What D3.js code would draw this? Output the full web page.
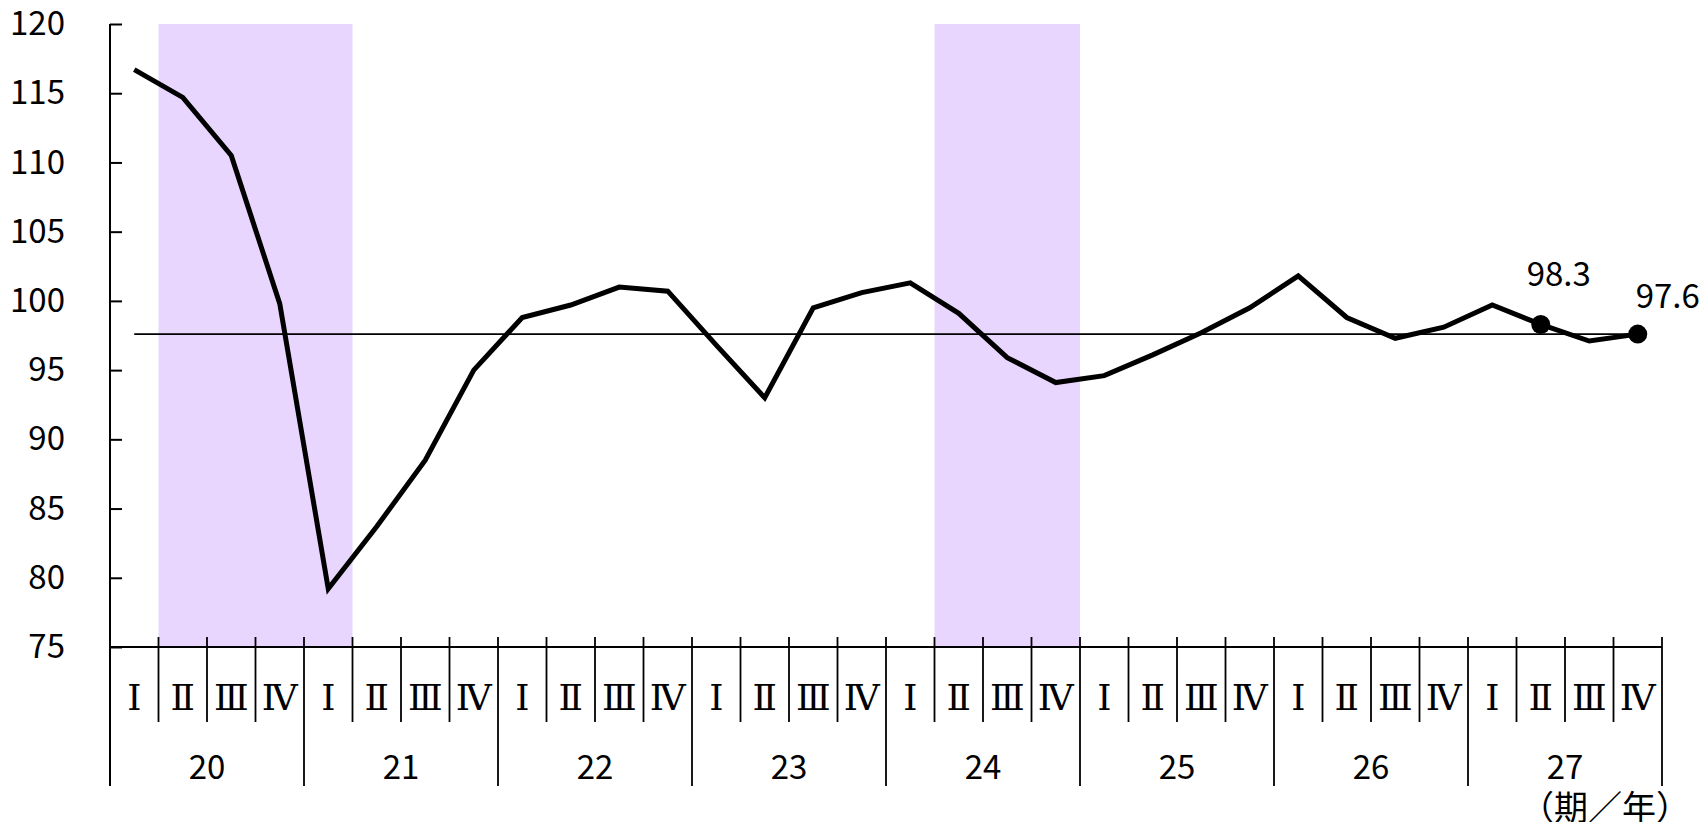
<!DOCTYPE html>
<html>
<head>
<meta charset="utf-8">
<script src="https://cdn.jsdelivr.net/npm/d3@7/dist/d3.min.js"></script>
<style>
  html, body { margin: 0; padding: 0; background: #fff; }
  svg { display: block; }
  text { font-family: "Noto Sans CJK JP", "Noto Sans", sans-serif; fill: #000; }
  text.quarter { font-family: "DejaVu Serif", serif; }
</style>
</head>
<body>
<svg id="chart" width="1700" height="822"></svg>
<script>
// Years and quarters along the horizontal axis
const years = ["20", "21", "22", "23", "24", "25", "26", "27"];
const quarters = ["Ⅰ", "Ⅱ", "Ⅲ", "Ⅳ"];

// Quarterly index values, 20 Ⅰ through 27 Ⅳ
const values = [
  116.7, 114.7, 110.5, 99.8,
  79.2, 83.7, 88.5, 95.0,
  98.8, 99.7, 101.0, 100.7,
  96.8, 93.0, 99.5, 100.6,
  101.3, 99.1, 95.9, 94.1,
  94.6, 96.1, 97.7, 99.5,
  101.8, 98.8, 97.3, 98.1,
  99.7, 98.3, 97.1, 97.6
];

// Reference level drawn as a thin horizontal line
const referenceLevel = 97.6;

// Shaded periods: [first quarter index, last quarter index]
const shadedPeriods = [[1, 4], [17, 19]];

// Points that carry a marker and a value label
const labelledPoints = [29, 31];

// Vertical axis ticks
const yTicks = [75, 80, 85, 90, 95, 100, 105, 110, 115, 120];

const svg = d3.select("#chart");

const plotLeft = 110, plotRight = 1662, plotTop = 24, plotBase = 647;
const quarterLineEnd = 722, yearLineEnd = 786;

const ids = d3.range(years.length * quarters.length);
const x = d3.scaleBand().domain(ids).range([plotLeft, plotRight]).padding(0);
const bw = x.bandwidth();
const cx = i => x(i) + bw / 2;
const y = d3.scaleLinear().domain([75, 120]).range([plotBase, plotTop]);

// Shaded bands
svg.append("g").selectAll("rect")
  .data(shadedPeriods)
  .join("rect")
  .attr("x", d => x(d[0]))
  .attr("width", d => x(d[1]) + bw - x(d[0]))
  .attr("y", y(120))
  .attr("height", y(75) - y(120))
  .attr("fill", "#e9d6fe");

// Reference line
svg.append("line")
  .attr("x1", cx(0)).attr("x2", cx(ids.length - 1))
  .attr("y1", y(referenceLevel)).attr("y2", y(referenceLevel))
  .attr("stroke", "#000").attr("stroke-width", 1.6);

// Vertical axis with inward ticks
const yAxis = d3.axisLeft(y)
  .tickValues(yTicks)
  .tickSizeInner(-12)
  .tickSizeOuter(0)
  .tickPadding(45);
const gy = svg.append("g").attr("transform", `translate(${plotLeft},0)`).call(yAxis);
gy.select(".domain").remove();
gy.selectAll(".tick line").attr("stroke", "#000").attr("stroke-width", 2);
gy.selectAll(".tick text")
  .attr("font-size", 33)
  .attr("fill", "#000");

// Axis lines
svg.append("line")
  .attr("x1", plotLeft).attr("x2", plotLeft)
  .attr("y1", plotTop).attr("y2", yearLineEnd)
  .attr("stroke", "#000").attr("stroke-width", 2);
svg.append("line")
  .attr("x1", plotLeft).attr("x2", plotRight)
  .attr("y1", plotBase).attr("y2", plotBase)
  .attr("stroke", "#000").attr("stroke-width", 2);

// Quarter and year dividers
const boundaries = d3.range(1, ids.length + 1);
svg.append("g").selectAll("line")
  .data(boundaries)
  .join("line")
  .attr("x1", i => i < ids.length ? x(i) : plotRight)
  .attr("x2", i => i < ids.length ? x(i) : plotRight)
  .attr("y1", plotBase - 10)
  .attr("y2", i => i % quarters.length === 0 ? yearLineEnd : quarterLineEnd)
  .attr("stroke", "#000").attr("stroke-width", 1.8);

// Quarter labels
svg.append("g").selectAll("text")
  .data(ids)
  .join("text")
  .attr("class", "quarter")
  .attr("x", i => cx(i))
  .attr("y", 697)
  .attr("text-anchor", "middle")
  .attr("dominant-baseline", "central")
  .attr("font-size", 36)
  .text(i => quarters[i % quarters.length]);

// Year labels
svg.append("g").selectAll("text")
  .data(years)
  .join("text")
  .attr("x", (d, j) => x(j * quarters.length) + bw * quarters.length / 2)
  .attr("y", 765)
  .attr("text-anchor", "middle")
  .attr("dominant-baseline", "central")
  .attr("font-size", 33)
  .text(d => d);

// Unit note
svg.append("text")
  .attr("x", 1605)
  .attr("y", 820)
  .attr("text-anchor", "middle")
  .attr("font-size", 34)
  .text("（期／年）");

// Series line
const line = d3.line().x((d, i) => cx(i)).y(d => y(d));
svg.append("path")
  .datum(values)
  .attr("d", line)
  .attr("fill", "none")
  .attr("stroke", "#000")
  .attr("stroke-width", 5)
  .attr("stroke-linejoin", "miter");

// Markers and value labels
const labelOffset = { 29: [18, -38], 31: [30, -26] };
svg.append("g").selectAll("circle")
  .data(labelledPoints)
  .join("circle")
  .attr("cx", i => cx(i))
  .attr("cy", i => y(values[i]))
  .attr("r", 9.5)
  .attr("fill", "#000");
svg.append("g").selectAll("text")
  .data(labelledPoints)
  .join("text")
  .attr("x", i => cx(i) + labelOffset[i][0])
  .attr("y", i => y(values[i]) + labelOffset[i][1])
  .attr("text-anchor", "middle")
  .attr("font-size", 33)
  .text(i => values[i].toFixed(1));
</script>
</body>
</html>
